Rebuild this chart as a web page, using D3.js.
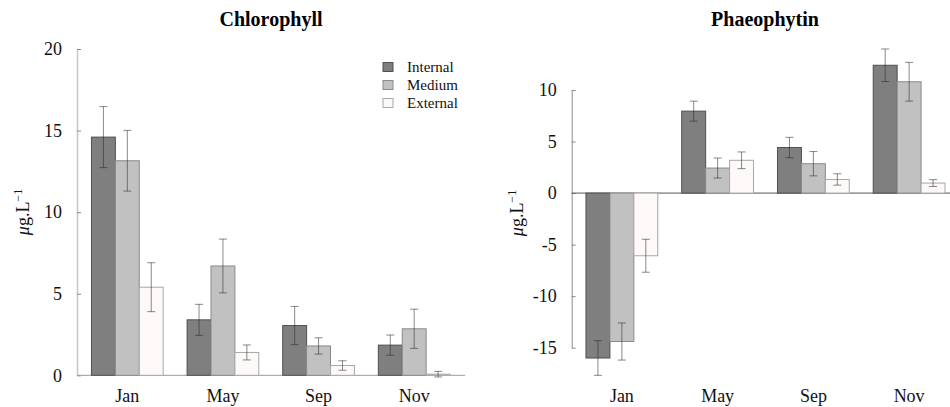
<!DOCTYPE html>
<html>
<head>
<meta charset="utf-8">
<script src="https://cdn.jsdelivr.net/npm/d3@7/dist/d3.min.js"></script>
<style>
  html, body { margin: 0; padding: 0; background: #fff; }
  svg, svg text { font-family: "Liberation Serif", "Times New Roman", serif; }
  svg { display: block; }
</style>
</head>
<body>
<svg id="chart" width="950" height="407"></svg>
<script>
// Sampling months and site positions
const months = ["Jan", "May", "Sep", "Nov"];
const sites = ["Internal", "Medium", "External"];

// Chlorophyll means and standard errors (µg/L), one array per site
const chlInternal = [14.6, 3.4, 3.05, 1.85];
const chlMedium   = [13.15, 6.7, 1.8, 2.85];
const chlExternal = [5.4, 1.4, 0.6, 0.07];
const chlInternalErr = [1.87, 0.95, 1.17, 0.62];
const chlMediumErr   = [1.86, 1.65, 0.5, 1.2];
const chlExternalErr = [1.5, 0.46, 0.29, 0.17];

// Phaeophytin means and standard errors (µg/L)
const phaInternal = [-16.0, 7.95, 4.42, 12.4];
const phaMedium   = [-14.4, 2.43, 2.85, 10.8];
const phaExternal = [-6.08, 3.18, 1.32, 0.97];
const phaInternalErr = [1.68, 0.97, 0.99, 1.58];
const phaMediumErr   = [1.8, 0.97, 1.18, 1.88];
const phaExternalErr = [1.6, 0.81, 0.55, 0.33];

// Tick values
const chlTicks = [0, 5, 10, 15, 20];
const phaTicks = [-15, -10, -5, 0, 5, 10];

const fills   = { Internal: "#7f7f80", Medium: "#c1c1c1", External: "#fdf9f8" };
const borders = { Internal: "#505050", Medium: "#8a8a8a", External: "#a8a8a8" };

function rows(vals, errs) {
  return months.map((m, i) => ({
    month: m,
    bars: sites.map((s, j) => ({ site: s, value: vals[j][i], err: errs[j][i] }))
  }));
}

const svg = d3.select("#chart");

function panel(opts) {
  const g = svg.append("g");
  const x = d3.scaleBand().domain(months).range(opts.xRange)
    .paddingInner(0.25).paddingOuter(0.125);
  const xs = d3.scaleBand().domain(sites).range([0, x.bandwidth()]);
  const y = d3.scaleLinear().domain(opts.yDomain).range(opts.yRange);

  // Title
  g.append("text")
    .attr("x", opts.titleX).attr("y", 26)
    .attr("text-anchor", "middle")
    .attr("font-weight", "bold").attr("font-size", 20)
    .text(opts.title);

  // Y axis with inward ticks; plain hyphen for negatives
  const ax = g.append("g")
    .attr("transform", `translate(${opts.axisX},0)`)
    .call(d3.axisLeft(y).tickValues(opts.ticks).tickFormat(d => String(d))
      .tickSizeInner(-4).tickSizeOuter(0).tickPadding(15));
  ax.attr("font-family", null).attr("font-size", null);
  ax.select(".domain").attr("stroke", opts.axisColor).attr("stroke-width", opts.axisWidth);
  ax.selectAll(".tick line").attr("stroke", "#8a8a8a");
  ax.selectAll(".tick text").attr("font-size", 18).attr("fill", "#111");

  // Y axis title
  const yl = g.append("text")
    .attr("transform", `translate(${opts.ylabX},${opts.ylabY}) rotate(-90)`)
    .attr("text-anchor", "middle").attr("font-size", 18).attr("fill", "#111");
  yl.append("tspan").attr("font-style", "italic").text("μ");
  yl.append("tspan").text("g.L");
  yl.append("tspan").attr("font-size", 12).attr("dy", -7).text("−1");

  // Zero line
  g.append("line")
    .attr("x1", opts.axisX).attr("x2", opts.zeroEnd)
    .attr("y1", y(0)).attr("y2", y(0))
    .attr("stroke", opts.zeroColor).attr("stroke-width", 1);

  // Bars
  const grp = g.selectAll(".grp").data(opts.data).join("g")
    .attr("transform", d => `translate(${x(d.month)},0)`);
  grp.selectAll("rect").data(d => d.bars).join("rect")
    .attr("x", d => xs(d.site))
    .attr("width", xs.bandwidth())
    .attr("y", d => Math.min(y(d.value), y(0)))
    .attr("height", d => Math.abs(y(d.value) - y(0)))
    .attr("fill", d => fills[d.site])
    .attr("stroke", d => borders[d.site]).attr("stroke-width", 1);

  // Error bars
  const eb = grp.selectAll(".eb").data(d => d.bars).join("g")
    .attr("stroke", "rgba(40,40,40,0.55)").attr("stroke-width", 1);
  const cx = d => xs(d.site) + xs.bandwidth() / 2;
  eb.append("line").attr("x1", cx).attr("x2", cx)
    .attr("y1", d => y(d.value - d.err)).attr("y2", d => y(d.value + d.err));
  eb.append("line").attr("x1", d => cx(d) - 4).attr("x2", d => cx(d) + 4)
    .attr("y1", d => y(d.value + d.err)).attr("y2", d => y(d.value + d.err));
  eb.append("line").attr("x1", d => cx(d) - 4).attr("x2", d => cx(d) + 4)
    .attr("y1", d => y(d.value - d.err)).attr("y2", d => y(d.value - d.err));

  // Month labels
  g.selectAll(".mlab").data(months).join("text")
    .attr("x", d => x(d) + x.bandwidth() / 2).attr("y", 402)
    .attr("text-anchor", "middle").attr("font-size", 18).attr("fill", "#111")
    .text(d => d);

  return { x, y };
}

panel({
  title: "Chlorophyll", titleX: 271,
  data: rows([chlInternal, chlMedium, chlExternal], [chlInternalErr, chlMediumErr, chlExternalErr]),
  xRange: [79.5, 462], yDomain: [0, 20], yRange: [375.3, 49], ticks: chlTicks,
  axisX: 77, axisColor: "#c8c8c8", axisWidth: 1.6,
  zeroEnd: 465, zeroColor: "#9a9a9a",
  ylabX: 29, ylabY: 212
});

panel({
  title: "Phaeophytin", titleX: 765,
  data: rows([phaInternal, phaMedium, phaExternal], [phaInternalErr, phaMediumErr, phaExternalErr]),
  xRange: [574, 957], yDomain: [-15, 10], yRange: [347.7, 90], ticks: phaTicks,
  axisX: 571.7, axisColor: "#8c8c8c", axisWidth: 1,
  zeroEnd: 950, zeroColor: "#555",
  ylabX: 523, ylabY: 213
});

// Legend
const legend = svg.append("g");
sites.forEach((s, i) => {
  const ly = 67 + i * 18;
  legend.append("rect")
    .attr("x", 383).attr("y", ly - 4.5).attr("width", 10).attr("height", 9)
    .attr("fill", fills[s]).attr("stroke", borders[s]).attr("stroke-width", 1);
  legend.append("text")
    .attr("x", 407).attr("y", ly + 5)
    .attr("font-size", 15).attr("fill", "#111").text(s);
});
</script>
</body>
</html>
